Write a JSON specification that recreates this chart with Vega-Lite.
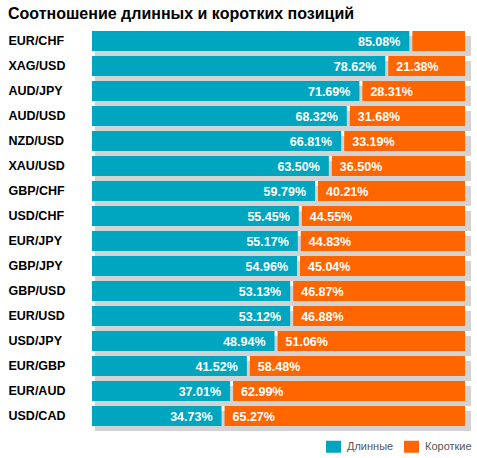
{
  "$schema": "https://vega.github.io/schema/vega-lite/v6.json",
  "width": 373,
  "height": 395,
  "autosize": "none",
  "padding": {"left": 92, "top": 31, "right": 12, "bottom": 32},
  "background": "white",
  "title": {
    "text": "Соотношение длинных и коротких позиций",
    "anchor": "start",
    "offset": 9,
    "font": "Liberation Sans",
    "fontSize": 16,
    "fontWeight": "bold",
    "color": "#000000"
  },
  "data": {
    "values": [
      {"pair": "EUR/CHF", "long": 85.08, "short": 14.92},
      {"pair": "XAG/USD", "long": 78.62, "short": 21.38},
      {"pair": "AUD/JPY", "long": 71.69, "short": 28.31},
      {"pair": "AUD/USD", "long": 68.32, "short": 31.68},
      {"pair": "NZD/USD", "long": 66.81, "short": 33.19},
      {"pair": "XAU/USD", "long": 63.50, "short": 36.50},
      {"pair": "GBP/CHF", "long": 59.79, "short": 40.21},
      {"pair": "USD/CHF", "long": 55.45, "short": 44.55},
      {"pair": "EUR/JPY", "long": 55.17, "short": 44.83},
      {"pair": "GBP/JPY", "long": 54.96, "short": 45.04},
      {"pair": "GBP/USD", "long": 53.13, "short": 46.87},
      {"pair": "EUR/USD", "long": 53.12, "short": 46.88},
      {"pair": "USD/JPY", "long": 48.94, "short": 51.06},
      {"pair": "EUR/GBP", "long": 41.52, "short": 58.48},
      {"pair": "EUR/AUD", "long": 37.01, "short": 62.99},
      {"pair": "USD/CAD", "long": 34.73, "short": 65.27}
    ]
  },
  "transform": [
    {"calculate": "format(datum.long, '.2f') + '%'", "as": "longLabel"},
    {"calculate": "format(datum.short, '.2f') + '%'", "as": "shortLabel"},
    {"calculate": "'Длинные'", "as": "longName"},
    {"calculate": "'Короткие'", "as": "shortName"}
  ],
  "encoding": {
    "y": {
      "field": "pair",
      "type": "nominal",
      "sort": null,
      "scale": {"paddingInner": 0.2, "paddingOuter": 0},
      "axis": {
        "title": null,
        "ticks": false,
        "domain": false,
        "labelAlign": "left",
        "labelPadding": 84,
        "labelFont": "Liberation Sans",
        "labelFontSize": 12.5,
        "labelFontWeight": "bold",
        "labelColor": "#000000"
      }
    }
  },
  "layer": [
    {
      "mark": {"type": "bar", "color": "#d3d3d3", "xOffset": 3, "x2Offset": 6, "yOffset": 5, "y2Offset": 5},
      "encoding": {
        "x": {"value": 0},
        "x2": {"value": "width"}
      }
    },
    {
      "mark": {"type": "bar"},
      "encoding": {
        "x": {"field": "long", "type": "quantitative", "scale": {"domain": [0, 100], "nice": false}, "axis": null},
        "color": {
          "field": "longName",
          "type": "nominal",
          "scale": {"domain": ["Длинные", "Короткие"], "range": ["#00a6bf", "#ff6600"]},
          "legend": {
            "title": null,
            "orient": "none",
            "direction": "horizontal",
            "legendX": 234,
            "legendY": 408,
            "symbolType": "M-1,-0.8H1V0.8H-1Z",
            "symbolSize": 225,
            "symbolStrokeWidth": 0,
            "symbolOpacity": 1,
            "labelFont": "Liberation Sans",
            "labelFontSize": 11,
            "labelColor": "#555555",
            "labelOffset": 6,
            "columnPadding": 10
          }
        }
      }
    },
    {
      "mark": {"type": "bar", "xOffset": 3},
      "encoding": {
        "x": {"field": "long", "type": "quantitative"},
        "x2": {"datum": 100},
        "color": {"field": "shortName", "type": "nominal"}
      }
    },
    {
      "mark": {"type": "text", "align": "right", "baseline": "middle", "dx": -9, "dy": 1, "color": "white", "font": "Liberation Sans", "fontSize": 12.5, "fontWeight": "bold"},
      "encoding": {
        "x": {"field": "long", "type": "quantitative"},
        "text": {"field": "longLabel"}
      }
    },
    {
      "transform": [{"filter": "datum.short > 15"}],
      "mark": {"type": "text", "align": "left", "baseline": "middle", "dx": 11, "dy": 1, "color": "white", "font": "Liberation Sans", "fontSize": 12.5, "fontWeight": "bold"},
      "encoding": {
        "x": {"field": "long", "type": "quantitative"},
        "text": {"field": "shortLabel"}
      }
    }
  ],
  "config": {"view": {"stroke": null}}
}
